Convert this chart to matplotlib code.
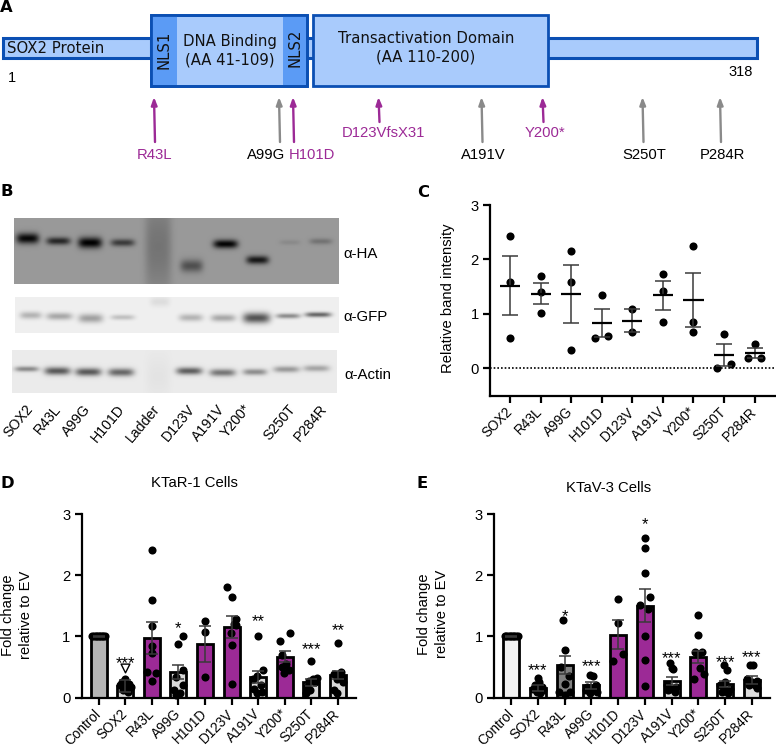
import numpy as np
import matplotlib
matplotlib.use("Agg")
import matplotlib.pyplot as plt
from matplotlib.patches import Rectangle

plt.rcParams['font.family'] = ['Liberation Sans', 'DejaVu Sans']
W, H = 776, 748
PURPLE = '#9c2a96'
GRAYA = '#8a8a8a'
BLUE = '#0b4fb3'
LIGHT = '#a9cbfc'
MID = '#5b9bf5'

# ---- Panel A
arrow_labels = ['R43L', 'A99G', 'H101D', 'D123VfsX31', 'A191V', 'Y200*', 'S250T', 'P284R']
arrow_colors = [PURPLE, GRAYA, PURPLE, PURPLE, GRAYA, PURPLE, GRAYA, GRAYA]
label_colors = [PURPLE, 'black', PURPLE, PURPLE, 'black', PURPLE, 'black', 'black']
arrow_x = [154.5, 279.5, 293.5, 379, 482, 543, 643, 720.5]
arrow_start = [142, 142, 142, 122, 142, 122, 142, 142]
label_x = [155, 266, 312, 383, 483, 545, 644, 722]
label_y = [155, 155, 155, 133, 155, 133, 155, 155]

# ---- Panel B (x centre, y centre, width, height, darkness), zoomed-crop pixels
blot_ha = [(83,175,68,32,.95),(175,183,72,23,.75),(270,188,72,33,1.0),(368,188,72,22,.62),(475,200,80,300,.24),
           (575,258,68,38,.48),(677,192,74,26,.98),(773,240,68,25,.85),(870,187,62,15,.1),(963,184,68,18,.25)]
blot_gfp = [(92,406,65,22,.25),(178,409,78,22,.3),(272,415,74,27,.33),(368,412,72,16,.2),(480,365,60,30,.08),
            (573,413,72,22,.25),(670,414,74,22,.3),(770,414,82,32,.65),(865,408,72,15,.42),(955,404,78,15,.58)]
blot_actin = [(80,567,72,16,.42),(172,573,78,24,.62),(265,576,78,24,.62),(363,577,78,24,.56),(475,590,70,120,.03),
              (568,573,78,22,.6),(668,578,78,22,.5),(765,576,72,19,.4),(860,568,78,19,.35),(950,565,78,19,.3)]
blot_lanes = ['SOX2', 'R43L', 'A99G', 'H101D', 'Ladder', 'D123V', 'A191V', 'Y200*', 'S250T', 'P284R']
lane_label_x = [35, 63, 92, 126, 162, 197, 227, 253, 297, 329]

# ---- Panel C
c_names = ['SOX2', 'R43L', 'A99G', 'H101D', 'D123V', 'A191V', 'Y200*', 'S250T', 'P284R']
c_points = [[2.44, 1.58, .55], [1.7, 1.4, 1.02], [2.16, 1.58, .34], [1.34, .6, .55], [1.09, .66],
            [1.74, 1.43, .85], [2.24, .85, .67], [.63, .08, .01], [.45, .2, .19]]
c_offsets = [[0, 0, 0], [0, 0, 0], [0, 0, 0], [0, .22, -.22], [0, 0],
             [0, 0, 0], [0, 0, 0], [0, .22, -.22], [0, .22, -.22]]
c_mean = [1.52, 1.37, 1.36, .83, .87, 1.34, 1.26, .24, .28]
c_hi = [2.07, 1.57, 1.9, 1.09, 1.09, 1.61, 1.76, .44, .38]
c_lo = [.98, 1.18, .83, .58, .66, 1.08, .76, .04, .19]

# ---- Panel D
d_names = ['Control', 'SOX2', 'R43L', 'A99G', 'H101D', 'D123V', 'A191V', 'Y200*', 'S250T', 'P284R']
d_mean = [1.0, .19, .98, .42, .88, 1.15, .34, .67, .25, .37]
d_err = [.01, .1, .26, .12, .29, .18, .1, .09, .06, .07]
d_fill = ['#b5b5b5', '#d9d9d9', PURPLE, '#d9d9d9', PURPLE, PURPLE, '#d9d9d9', PURPLE, '#d9d9d9', '#d9d9d9']
d_points = [[1]*9,
            [.3, .25, .22, .2, .18, .15, .12, .1],
            [2.42, 1.59, 1.17, .85, .73, .42, .40, .27],
            [1.0, .88, .45, .33, .2, .12, .08, .05],
            [1.26, 1.07, .34],
            [1.81, 1.65, 1.29, 1.2, 1.18, 1.05, .86, .22],
            [1.0, .45, .35, .3, .2, .15, .1, .08],
            [1.05, .93, .7, .55, .5, .45, .4],
            [.6, .32, .3, .28, .25, .18, .12, .08],
            [.89, .42, .38, .33, .3, .25, .12, .08]]
d_offsets = [[-.24, -.18, -.12, -.06, 0, .06, .12, .18, .24],
             [0, -.14, .14, -.2, .2, 0, -.1, .1],
             [0, 0, 0, 0, 0, -.2, .15, 0],
             [.19, 0, .16, -.1, .16, -.16, .06, -.08],
             [0, 0, 0],
             [-.19, 0, .18, .08, .16, -.02, 0, 0],
             [0, .19, -.05, -.2, .12, -.16, .16, -.06],
             [.19, -.19, -.1, .06, -.1, .16, -.02],
             [0, .2, .05, -.1, .12, -.18, -.04, -.2],
             [0, .1, -.15, .16, -.05, .18, -.13, -.05]]
d_stars = ['', '***', '', '*', '', '', '**', '', '***', '**']
d_star_y = [0, .55, 0, 1.13, 0, 0, 1.25, 0, .79, 1.09]
d_triangle = [.48]

# ---- Panel E
e_names = d_names
e_mean = [1.0, .16, .53, .2, 1.03, 1.5, .27, .67, .22, .29]
e_err = [.01, .05, .15, .05, .24, .27, .06, .1, .05, .06]
e_fill = ['#f2f2f2', '#dcdcdc', '#808080', '#dcdcdc', PURPLE, PURPLE, '#dcdcdc', PURPLE, '#dcdcdc', '#dcdcdc']
e_points = [[1]*9,
            [.32, .25, .2, .18, .15, .12, .1, .08],
            [1.27, .78, .5, .35, .22, .1, .1, .05],
            [.37, .35, .2, .18, .15, .12, .1, .08],
            [1.62, 1.22, .72, .6],
            [2.61, 2.45, 2.03, 1.64, 1.52, 1.45, 1.0, .62, .19],
            [.57, .48, .47, .2, .18, .15, .12, .1],
            [1.35, 1.03, .74, .74, .72, .48, .38, .3],
            [.53, .46, .25, .2, .15, .12, .1, .08],
            [.54, .54, .3, .28, .25, .2, .2, .16]]
e_offsets = [[-.24, -.18, -.12, -.06, 0, .06, .12, .18, .24],
             [0, .05, -.1, .15, -.18, .2, -.05, .08],
             [-.06, 0, -.15, .15, 0, -.2, .2, 0],
             [-.06, .06, .18, -.15, .05, -.2, .2, -.05],
             [0, 0, .18, -.18],
             [0, 0, 0, .18, -.18, .12, 0, 0, 0],
             [-.05, .03, .05, -.18, .18, 0, -.12, .12],
             [0, 0, -.14, .14, 0, .06, .2, -.18],
             [-.03, .07, -.02, -.18, .18, 0, -.12, .12],
             [-.05, .05, -.18, .18, 0, -.12, .12, .2]]
e_stars = ['', '***', '*', '***', '', '*', '***', '', '***', '***']
e_star_y = [0, .44, 1.33, .51, 0, 2.82, .64, 0, .58, .66]


def px_axes(left, right, top, bottom, **kw):
    return fig.add_axes([left / W, 1 - bottom / H, (right - left) / W, (bottom - top) / H], **kw)


def style(ax):
    for s in ('top', 'right'):
        ax.spines[s].set_visible(False)
    for s in ('left', 'bottom'):
        ax.spines[s].set_linewidth(1.6)
    ax.tick_params(axis='y', width=1.6, length=5, labelsize=10.6, pad=3)
    ax.tick_params(axis='x', width=1.6, length=5, pad=5)
    ax.set_yticks([0, 1, 2, 3])
    ax.patch.set_alpha(0)


def set_names(ax, x, names):
    ax.set_xticks(x)
    ax.set_xticklabels(names, rotation=45, ha='right', va='center', rotation_mode='anchor', fontsize=9.8)


def blot(ov, bands, x0, x1, y0, y1, bg):
    xs = np.linspace(x0, x1, int((x1 - x0) * 3))
    ys = np.linspace(y0, y1, int((y1 - y0) * 3))
    X, Y = np.meshgrid(xs, ys)
    img = np.full(X.shape, bg, dtype=float)
    for cx, cy, w, h, d in bands:
        cx, w, h = cx / 3, w / 3, h / 3
        cy = 180 + cy / 3
        img -= bg * d * np.exp(-(2 * (X - cx) / w) ** 4) * np.exp(-(2 * (Y - cy) / h) ** 2)
    ov.imshow(np.clip(img, 0, 1), cmap='gray', vmin=0, vmax=1, extent=(x0, x1, y1, y0),
              aspect='auto', interpolation='bilinear', zorder=1)


def bars(ax, names, mean, err, fill, points, offsets, stars, star_y):
    x = np.arange(len(names))
    ax.bar(x, mean, width=.6, color=fill, edgecolor='black', linewidth=2, zorder=2)
    for i, (p, o) in enumerate(zip(points, offsets)):
        ax.scatter(np.array(o) + i, p, s=34, color='black', linewidths=0, zorder=3, clip_on=False)
    ax.errorbar(x, mean, yerr=err, fmt='none', ecolor='#3a3a3a', elinewidth=1.1, capsize=4.5,
                capthick=1.1, zorder=4)
    for i, (s, y) in enumerate(zip(stars, star_y)):
        if s:
            ax.text(i, y, s, ha='center', va='center', fontsize=12, zorder=5)
    set_names(ax, x, names)
    ax.set_xlim(-.64, len(names) - .32)
    ax.set_ylim(0, 3)
    style(ax)


fig = plt.figure(figsize=(W / 100, H / 100), dpi=100)
ov = fig.add_axes([0, 0, 1, 1])

# Blots
blot(ov, blot_ha, 14, 339, 218, 284, .60)
blot(ov, blot_gfp, 15, 339, 297, 333, .94)
blot(ov, blot_actin, 12, 337, 350, 393, .92)
ov.set_xlim(0, W)
ov.set_ylim(H, 0)
ov.axis('off')

for x, name in zip(lane_label_x, blot_lanes):
    ov.text(x + 1, 402, name, rotation=50, ha='right', va='top', fontsize=10.2)
ov.text(343, 254, 'α-HA', va='center', fontsize=10.8)
ov.text(343, 317, 'α-GFP', va='center', fontsize=10.8)
ov.text(344, 375, 'α-Actin', va='center', fontsize=10.8)

# Protein diagram
for x0, x1 in [(2.5, 151), (300, 316), (545, 757)]:
    ov.add_patch(Rectangle((x0, 38), x1 - x0, 20, fc=LIGHT, ec=BLUE, lw=2.2, zorder=1))
ov.add_patch(Rectangle((150.5, 15), 156, 70.5, fc=LIGHT, ec=BLUE, lw=2, zorder=2))
ov.add_patch(Rectangle((151, 15.5), 26, 69.5, fc=MID, ec='none', zorder=3))
ov.add_patch(Rectangle((283, 15.5), 23, 69.5, fc=MID, ec='none', zorder=3))
ov.add_patch(Rectangle((150.5, 15), 156, 70.5, fc='none', ec=BLUE, lw=2, zorder=3))
ov.add_patch(Rectangle((312.5, 15), 235.5, 70.5, fc=LIGHT, ec=BLUE, lw=2, zorder=2))

dj = ['DejaVu Sans']
ov.text(7, 48, 'SOX2 Protein', family=dj, fontsize=10.7, va='center', color='#111', zorder=5)
ov.text(164, 49.5, 'NLS1', family=dj, fontsize=10.7, va='center', ha='center', rotation=90, color='#111', zorder=5)
ov.text(295, 48, 'NLS2', family=dj, fontsize=10.7, va='center', ha='center', rotation=90, color='#111', zorder=5)
ov.text(230, 41, 'DNA Binding', family=dj, fontsize=10.7, va='center', ha='center', color='#111', zorder=5)
ov.text(230, 60, '(AA 41-109)', family=dj, fontsize=10.7, va='center', ha='center', color='#111', zorder=5)
ov.text(426, 38, 'Transactivation Domain', family=dj, fontsize=10.7, va='center', ha='center', color='#111', zorder=5)
ov.text(426, 57, '(AA 110-200)', family=dj, fontsize=10.7, va='center', ha='center', color='#111', zorder=5)
ov.text(12, 78, '1', fontsize=10.5, ha='center', va='center')
ov.text(741, 72, '318', fontsize=10.5, ha='center', va='center')

for lab, c, lc, x, ys, lx, ly in zip(arrow_labels, arrow_colors, label_colors, arrow_x, arrow_start, label_x, label_y):
    ov.annotate('', xy=(x - .5, 97), xytext=(x + .5, ys),
                arrowprops=dict(arrowstyle='-|>,head_width=.17,head_length=.45', color=c, lw=1.7,
                                shrinkA=0, shrinkB=0))
    ov.text(lx, ly, lab, color=lc, fontsize=10.7, ha='center', va='center')

# Panel letters
for s, x, y in [('A', 0, 7.5), ('B', 1, 191), ('C', 417, 192), ('D', 1, 483), ('E', 417, 483)]:
    ov.text(x, y, s, fontsize=11.8, family=dj, fontweight='bold', va='center', ha='left')

# Panel C
axc = px_axes(490, 776, 205, 395.7)
xc = np.arange(len(c_names))
for i, (p, o) in enumerate(zip(c_points, c_offsets)):
    axc.scatter(np.array(o) + i, p, s=34, color='black', linewidths=0, zorder=3)
axc.errorbar(xc, c_mean, yerr=[np.array(c_mean) - np.array(c_lo), np.array(c_hi) - np.array(c_mean)],
             fmt='none', ecolor='#3a3a3a', elinewidth=1.1, capsize=5.5, capthick=1.1, zorder=4)
axc.hlines(c_mean, xc - .33, xc + .33, color='black', lw=1.6, zorder=5)
axc.axhline(0, color='black', lw=1.2, ls=(0, (1, 1.2)), zorder=1)
axc.set_xlim(-.655, 8.7)
axc.set_ylim(-.5, 3)
set_names(axc, xc, c_names)
style(axc)
ov.text(448, 298, 'Relative band intensity', rotation=90, ha='center', va='center', fontsize=10.6)

# Panel D
axd = px_axes(81.7, 356, 514, 697.7)
bars(axd, d_names, d_mean, d_err, d_fill, d_points, d_offsets, d_stars, d_star_y)
axd.scatter([1], d_triangle, marker='v', s=40, facecolor='white', edgecolor='black', linewidths=1, zorder=6)
ov.text(194, 483, 'KTaR-1 Cells', ha='center', va='center', fontsize=10.7)
ov.text(17, 615, 'Fold change\nrelative to EV', rotation=90, ha='center', va='center', fontsize=10.6, linespacing=1.35)

# Panel E
axe = px_axes(494, 770, 514, 697.7)
bars(axe, e_names, e_mean, e_err, e_fill, e_points, e_offsets, e_stars, e_star_y)
ov.text(609, 488, 'KTaV-3 Cells', ha='center', va='center', fontsize=10.7)
ov.text(433, 614, 'Fold change\nrelative to EV', rotation=90, ha='center', va='center', fontsize=10.6, linespacing=1.35)

fig.savefig('out.png', dpi=100)
